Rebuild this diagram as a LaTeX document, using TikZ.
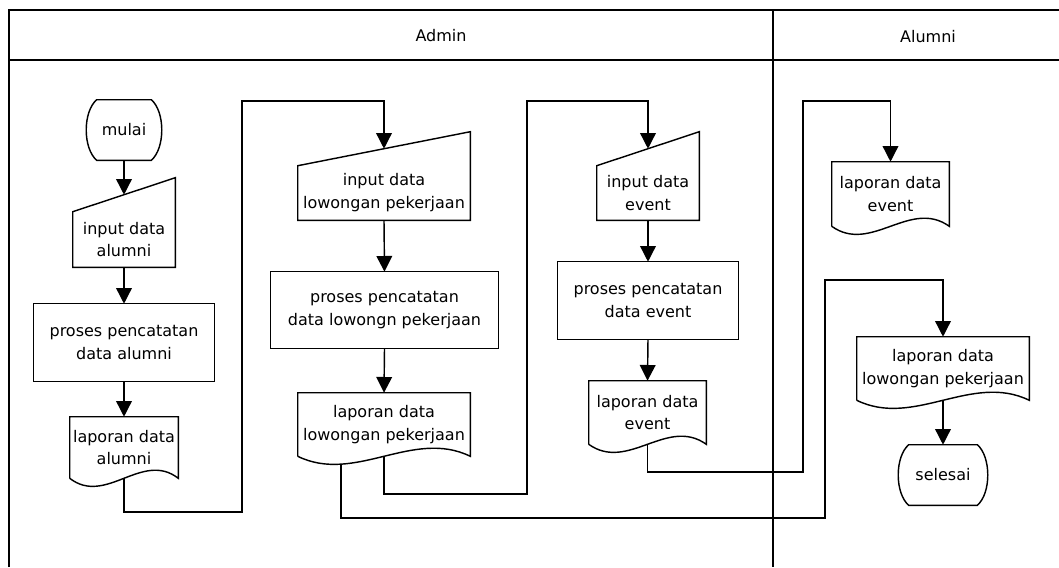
\documentclass[tikz,border=0pt]{standalone}
\usepackage{fontspec}
\setmainfont{DejaVu Sans}
\usetikzlibrary{arrows.meta,calc}

\tikzset{
  box/.style={inner sep=0pt, align=center, font=\fontsize{11.2}{16}\selectfont},
  lane/.style={line width=2pt},
  line/.style={line width=1pt},
  arr/.style={line width=1pt, -{Triangle[length=11pt,width=11pt]}},
}

\begin{document}
\begin{tikzpicture}[x=0.7pt, y=-0.7pt]
    \useasboundingbox (0,0) rectangle (1059,567);
    % lanes
    \draw[lane] (9,567) -- (9,10) -- (1059,10);
    \draw[lane] (9,60) -- (1059,60);
    \draw[lane] (773,10) -- (773,567);
    \node[box] (admin) at (441,36) {Admin};
    \node[box] (alumni) at (928,37) {Alumni};

    % admin
    \node[box, minimum width=53.2pt, minimum height=42pt] (mulai) at (124,130) {mulai};
    \node[box, minimum width=71.4pt, minimum height=38.5pt] (inAlumni) at (124,239.5) {input data\\alumni};
    \node[box, minimum width=126pt, minimum height=53.9pt] (prAlumni) at (124,342.5) {proses pencatatan\\data alumni};
    \node[box, minimum width=75.6pt, minimum height=42.7pt] (lapAlumni) at (124,447.5) {laporan data\\alumni};

    \node[box, minimum width=120.4pt, minimum height=37.8pt] (inLowongan) at (384,193) {input data\\lowongan pekerjaan};
    \node[box, minimum width=158.9pt, minimum height=53.2pt] (prLowongan) at (384.5,310) {proses pencatatan\\data lowongn pekerjaan};
    \node[box, minimum width=120.4pt, minimum height=44.1pt] (lapLowongan) at (384,424.5) {laporan data\\lowongan pekerjaan};

    \node[box, minimum width=71.4pt, minimum height=37.8pt] (inEvent) at (648,193) {input data\\event};
    \node[box, minimum width=126pt, minimum height=53.9pt] (prEvent) at (648,300.5) {proses pencatatan\\data event};
    \node[box, minimum width=81.9pt, minimum height=44.1pt] (lapEvent) at (647.5,412.5) {laporan data\\event};

    % alumni
    \node[box, minimum width=81.9pt, minimum height=44.8pt] (lapEventAl) at (890.5,194) {laporan data\\event};
    \node[box, minimum width=120.4pt, minimum height=44.1pt] (lapLowAl) at (943,368.5) {laporan data\\lowongan pekerjaan};
    \node[box, minimum width=63pt, minimum height=42pt] (selesai) at (943,475) {selesai};

    % shapes
    \foreach \n in {mulai,selesai}
      \draw[line] ($(\n.north west)+(11,0)$) -- ($(\n.north east)+(-11,0)$)
        .. controls +(14,12) and +(14,-12) .. ($(\n.south east)+(-11,0)$)
        -- ($(\n.south west)+(11,0)$)
        .. controls +(-14,-12) and +(-14,12) .. ($(\n.north west)+(11,0)$) -- cycle;
    \foreach \n in {inAlumni,inLowongan,inEvent}
      \draw[line] (\n.south west) -- (\n.north west) -- ($(\n.north east)+(0,-34)$)
        -- (\n.south east) -- cycle;
    \foreach \n in {prAlumni,prLowongan,prEvent}
      \draw[line] (\n.south west) rectangle (\n.north east);
    \foreach \n in {lapAlumni,lapLowongan,lapEvent,lapEventAl,lapLowAl}
      \draw[line] (\n.south west) -- (\n.north west) -- (\n.north east) -- (\n.south east)
        .. controls ($(\n.south east)!0.333!(\n.south west)+(0,-28)$)
        and ($(\n.south east)!0.667!(\n.south west)+(0,28)$) .. (\n.south west);

    % connectors
    \coordinate (top) at (0,101);
    \coordinate (mid) at (0,280);
    \coordinate (a1) at (242,512);
    \coordinate (b1) at (527,494);
    \coordinate (c1) at (825,518);
    \coordinate (d1) at (803,472);

    \draw[arr] (mulai.south) -- ($(inAlumni.north)+(0,-17)$);
    \draw[arr] (inAlumni.south) -- (prAlumni.north);
    \draw[arr] (prAlumni.south) -- (lapAlumni.north);
    \draw[arr] (lapAlumni.south) |- (a1) |- (inLowongan.north |- top)
      -- ($(inLowongan.north)+(0,-17)$);
    \draw[arr] (inLowongan.south) -- (prLowongan.north);
    \draw[arr] (prLowongan.south) -- (lapLowongan.north);
    \draw[arr] (lapLowongan.south) |- (b1) |- (inEvent.north |- top)
      -- ($(inEvent.north)+(0,-17)$);
    \draw[arr] (inEvent.south) -- (prEvent.north);
    \draw[arr] (prEvent.south) -- (lapEvent.north);
    \draw[arr] (lapEvent.south) |- (d1) |- (lapEventAl.north |- top) -- (lapEventAl.north);
    \draw[arr] ($(lapLowongan.south west)!0.25!(lapLowongan.south east)+(0,8)$) |- (c1)
      |- (lapLowAl.north |- mid) -- (lapLowAl.north);
    \draw[arr] (lapLowAl.south) -- (selesai.north);
\end{tikzpicture}
\end{document}
